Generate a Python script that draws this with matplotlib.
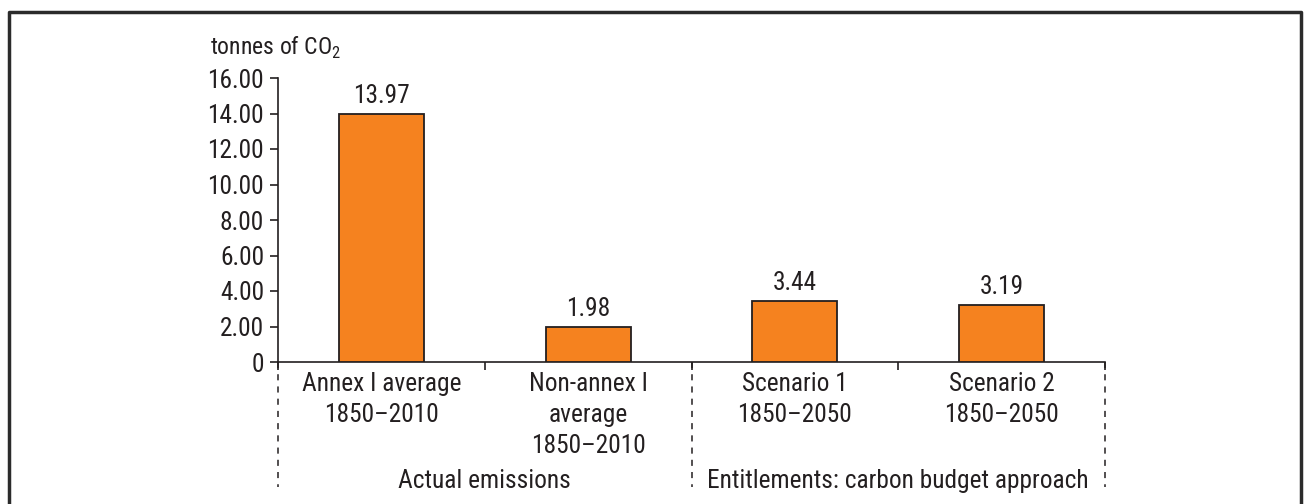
import matplotlib
matplotlib.use("Agg")
import matplotlib.pyplot as plt
from matplotlib.lines import Line2D

plt.rcParams['font.family'] = ['Roboto Condensed', 'Liberation Sans Narrow', 'Roboto', 'DejaVu Sans']
plt.rcParams['mathtext.fontset'] = 'custom'
plt.rcParams['mathtext.rm'] = 'Roboto Condensed'

# per-capita cumulative emissions, tonnes of CO2
categories = ["Annex I average\n1850–2010",
              "Non-annex I\naverage\n1850–2010",
              "Scenario 1\n1850–2050",
              "Scenario 2\n1850–2050"]
values = [13.97, 1.98, 3.44, 3.19]
groups = ["Actual emissions", "Entitlements: carbon budget approach"]
group_spans = [(-0.5, 1.5), (1.5, 3.5)]
yticks = [0, 2, 4, 6, 8, 10, 12, 14, 16]
ytick_labels = ["0"] + ["%.2f" % t for t in yticks[1:]]

ORANGE = "#f5821f"
DARK = "#231f20"
FS = 18.3

fig = plt.figure(figsize=(13.04, 5.04), dpi=100)
ax = fig.add_axes([278 / 1304, 1 - 362 / 504, 827 / 1304, 284 / 504])

x = list(range(len(values)))
bars = ax.bar(x, values, width=0.41, color=ORANGE, edgecolor=DARK, linewidth=1.3, zorder=3)
for b, v in zip(bars, values):
    ax.text(b.get_x() + b.get_width() / 2, v + 0.35, "%.2f" % v,
            ha="center", va="bottom", fontsize=FS, color=DARK)

ax.set_xlim(-0.5, 3.5)
ax.set_ylim(0, 16)
ax.set_yticks(yticks)
ax.set_yticklabels(ytick_labels)
ax.set_xticks([-0.5, 0.5, 1.5, 2.5, 3.5])
ax.set_xticklabels([])
ax.tick_params(axis="y", direction="out", length=6, width=1.2, colors=DARK,
               labelsize=FS, pad=4)
ax.tick_params(axis="x", direction="out", length=6, width=1.2, colors=DARK)
for s in ("top", "right"):
    ax.spines[s].set_visible(False)
for s in ("left", "bottom"):
    ax.spines[s].set_color(DARK)
    ax.spines[s].set_linewidth(1.2)

# category labels under the axis
trans = ax.get_xaxis_transform()
for xi, lab in zip(x, categories):
    ax.text(xi, -0.035, lab, transform=trans, ha="center", va="top",
            fontsize=FS, color=DARK, linespacing=1.38)

# dashed separators and group names
for xs in (-0.5, 1.5, 3.5):
    ax.add_line(Line2D([xs, xs], [0, -0.44], transform=trans, color=DARK,
                       linewidth=1.1, linestyle=(0, (4, 4)), clip_on=False))
for (a, b), g in zip(group_spans, groups):
    ax.text((a + b) / 2, -0.418, g, transform=trans, ha="center", va="center",
            fontsize=FS, color=DARK)

ax.text(-0.082, 1.083, "tonnes of CO$_2$", transform=ax.transAxes, ha="left",
        va="baseline", fontsize=17, color=DARK)

# frame around the figure (open at the bottom)
fig.add_artist(Line2D([9 / 1304, 9 / 1304, 1301 / 1304, 1301 / 1304],
                      [0, 1 - 12 / 504, 1 - 12 / 504, 0],
                      transform=fig.transFigure, color="#2b2b2b", linewidth=2.5))

fig.savefig("out.png", dpi=100)
